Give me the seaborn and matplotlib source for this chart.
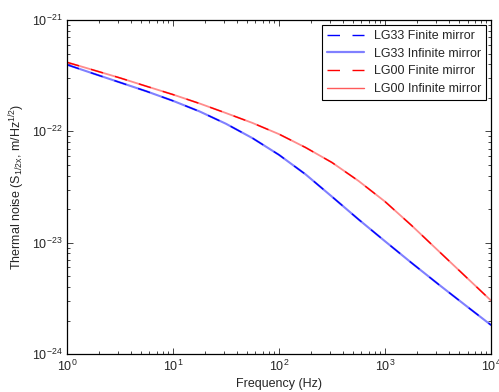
import matplotlib
matplotlib.use("Agg")
import matplotlib.pyplot as plt
import seaborn as sns
import pandas as pd
from matplotlib.lines import Line2D

# Data
freq = [1, 1.78, 3.16, 5.62, 10, 17.8, 31.6, 56.2, 100, 178, 316, 562,
        1000, 1778, 3162, 5623, 10000]
lg33 = [3.97e-22, 3.30e-22, 2.75e-22, 2.29e-22, 1.88e-22, 1.51e-22, 1.17e-22,
        8.69e-23, 6.15e-23, 4.11e-23, 2.59e-23, 1.62e-23, 1.03e-23, 6.59e-24,
        4.26e-24, 2.78e-24, 1.82e-24]
lg00 = [4.17e-22, 3.55e-22, 3.02e-22, 2.54e-22, 2.14e-22, 1.78e-22, 1.46e-22,
        1.19e-22, 9.44e-23, 7.16e-23, 5.25e-23, 3.59e-23, 2.34e-23, 1.43e-23,
        8.51e-24, 5.07e-24, 3.02e-24]
series_labels = ["LG33 Finite mirror", "LG33 Infinite mirror",
                 "LG00 Finite mirror", "LG00 Infinite mirror"]
x_label = "Frequency (Hz)"
y_label = r"Thermal noise (S$_{1/2x}$, m/Hz$^{1/2}$)"

sns.set_style("ticks")
plt.rcParams["font.family"] = ["Liberation Sans", "DejaVu Sans"]
plt.rcParams["mathtext.fontset"] = "custom"
plt.rcParams["mathtext.rm"] = "Liberation Sans"
plt.rcParams["mathtext.it"] = "Liberation Sans"
plt.rcParams["mathtext.default"] = "regular"

fig = plt.figure(figsize=(4.99, 3.92), dpi=100)
ax = fig.add_axes([0.1343, 0.0969, 0.8497, 0.852])

df = pd.DataFrame({"freq": freq, "lg33": lg33, "lg00": lg00})

dash = (0, (9, 9))
styles = [
    ("lg33", "#8080ff", "-", 1.5),
    ("lg33", "#0000ff", dash, 1.0),
    ("lg00", "#ff8c8c", "-", 1.3),
    ("lg00", "#ff0000", dash, 1.0),
]
for col, color, ls, lw in styles:
    sns.lineplot(data=df, x="freq", y=col, ax=ax, color=color,
                 linestyle=ls, linewidth=lw, legend=False)

ax.set_xscale("log")
ax.set_yscale("log")
ax.set_xlim(1, 1e4)
ax.set_ylim(1e-24, 1e-21)
ax.set_xlabel(x_label, fontsize=9, labelpad=3)
ax.set_ylabel(y_label, fontsize=9, labelpad=3)
ax.tick_params(which="both", direction="in", top=True, right=True,
               labelsize=9, width=0.6)
ax.tick_params(which="major", length=4)
ax.tick_params(which="minor", length=2)
for s in ax.spines.values():
    s.set_linewidth(0.9)
    s.set_color("black")

handles = [
    Line2D([], [], color="#0000ff", linestyle=dash, linewidth=1.0),
    Line2D([], [], color="#8080ff", linestyle="-", linewidth=1.6),
    Line2D([], [], color="#ff0000", linestyle=dash, linewidth=1.0),
    Line2D([], [], color="#ff5a5a", linestyle="-", linewidth=1.0),
]
leg = ax.legend(handles, series_labels, loc="upper right", fontsize=9,
                frameon=True, fancybox=False, framealpha=1,
                edgecolor="black", handlelength=3.0, borderaxespad=0.4,
                labelspacing=0.45, borderpad=0.4, handletextpad=0.75)
leg.get_frame().set_linewidth(0.8)

fig.savefig("out.png", dpi=100)
